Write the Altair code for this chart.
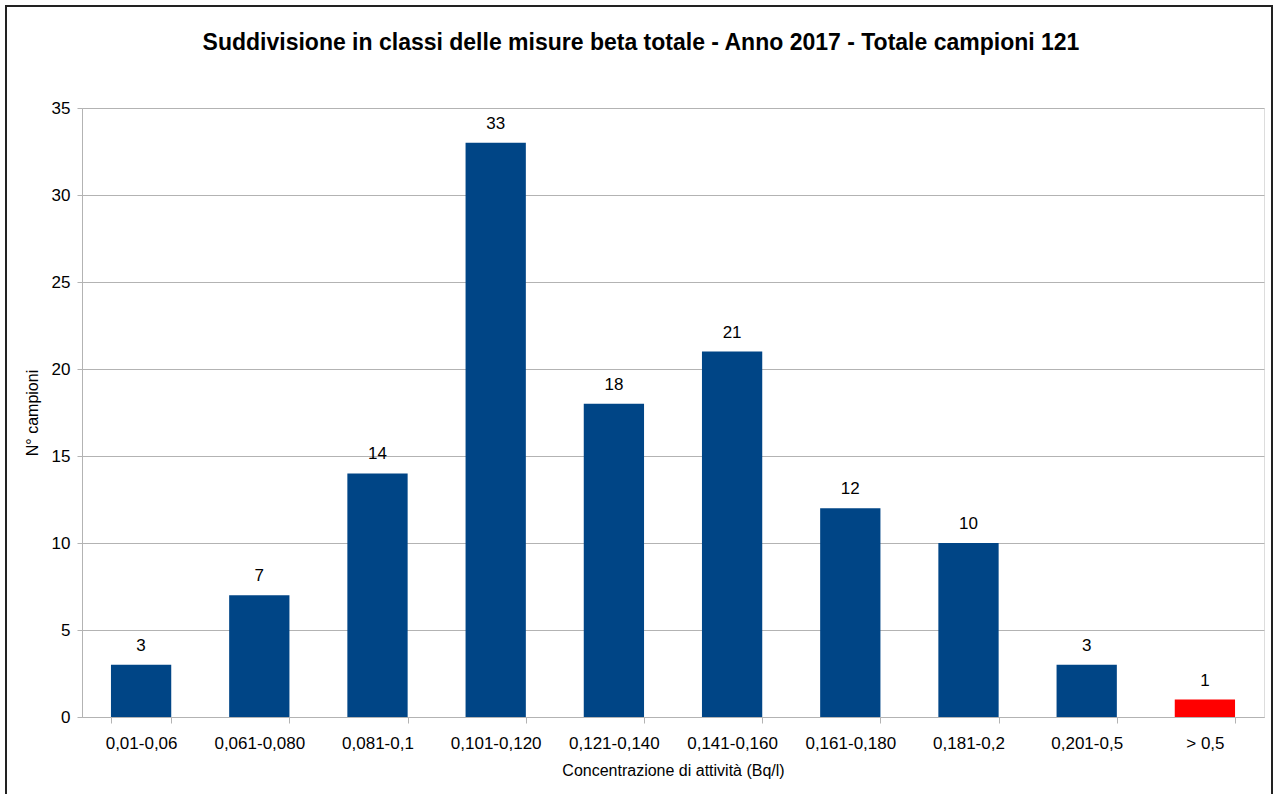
import altair as alt
import pandas as pd

titolo = "Suddivisione in classi delle misure beta totale - Anno 2017 - Totale campioni 121"
classi = ["0,01-0,06", "0,061-0,080", "0,081-0,1", "0,101-0,120", "0,121-0,140",
          "0,141-0,160", "0,161-0,180", "0,181-0,2", "0,201-0,5", "> 0,5"]
campioni = [3, 7, 14, 33, 18, 21, 12, 10, 3, 1]

df = pd.DataFrame({"classe": classi, "n": campioni})

FONT = "Liberation Sans"
GRAY = "#b3b3b3"

x_enc = alt.X("classe:N", sort=classi, title="Concentrazione di attività (Bq/l)",
              scale=alt.Scale(paddingInner=0.49, paddingOuter=0.245),
              axis=alt.Axis(labelAngle=0, tickBand="extent", tickSize=6, labelPadding=12,
                            labelFontSize=17, titleFontSize=16, titlePadding=11,
                            domainColor=GRAY, tickColor=GRAY, labelColor="black",
                            titleFontWeight="normal", grid=False))
y_enc = alt.Y("n:Q", title="N° campioni",
              scale=alt.Scale(domain=[0, 35], nice=False),
              axis=alt.Axis(values=[0, 5, 10, 15, 20, 25, 30, 35], tickSize=5, labelPadding=7,
                            labelFontSize=17, titleFontSize=16, titlePadding=11,
                            domainColor=GRAY, tickColor=GRAY, gridColor=GRAY,
                            titleFontWeight="normal", grid=True))

bars = alt.Chart(df).mark_bar().encode(
    x=x_enc, y=y_enc,
    color=alt.condition(alt.datum.classe == "> 0,5", alt.value("#ff0000"), alt.value("#004586")),
)

labels = alt.Chart(df).mark_text(baseline="alphabetic", dy=-14, fontSize=17, font=FONT,
                                 color="black").encode(
    x=alt.X("classe:N", sort=classi), y="n:Q", text="n:Q")

frame = alt.Chart(df).mark_rect(fill=None, stroke="#222222", strokeWidth=2, clip=False).encode(
    x=alt.value(-76), x2=alt.value(1190), y=alt.value(-102), y2=alt.value(720))

title_mark = alt.Chart(pd.DataFrame({"t": [titolo]})).mark_text(
    font=FONT, fontSize=23, fontWeight="bold", color="black", align="center",
    baseline="alphabetic", clip=False).encode(
    x=alt.value(559), y=alt.value(-58), text="t:N")

chart = alt.layer(frame, bars, labels, title_mark).properties(
    width=1182, height=609,
    padding={"left": 82, "top": 108, "right": 10, "bottom": 77},
    autosize=alt.AutoSizeParams(type="none"),
).configure_view(stroke=GRAY, strokeWidth=1).configure(font=FONT).configure_axis(
    labelFont=FONT, titleFont=FONT, titleColor="black")

chart.save("out.html", embed_options={"renderer": "svg", "actions": False})
